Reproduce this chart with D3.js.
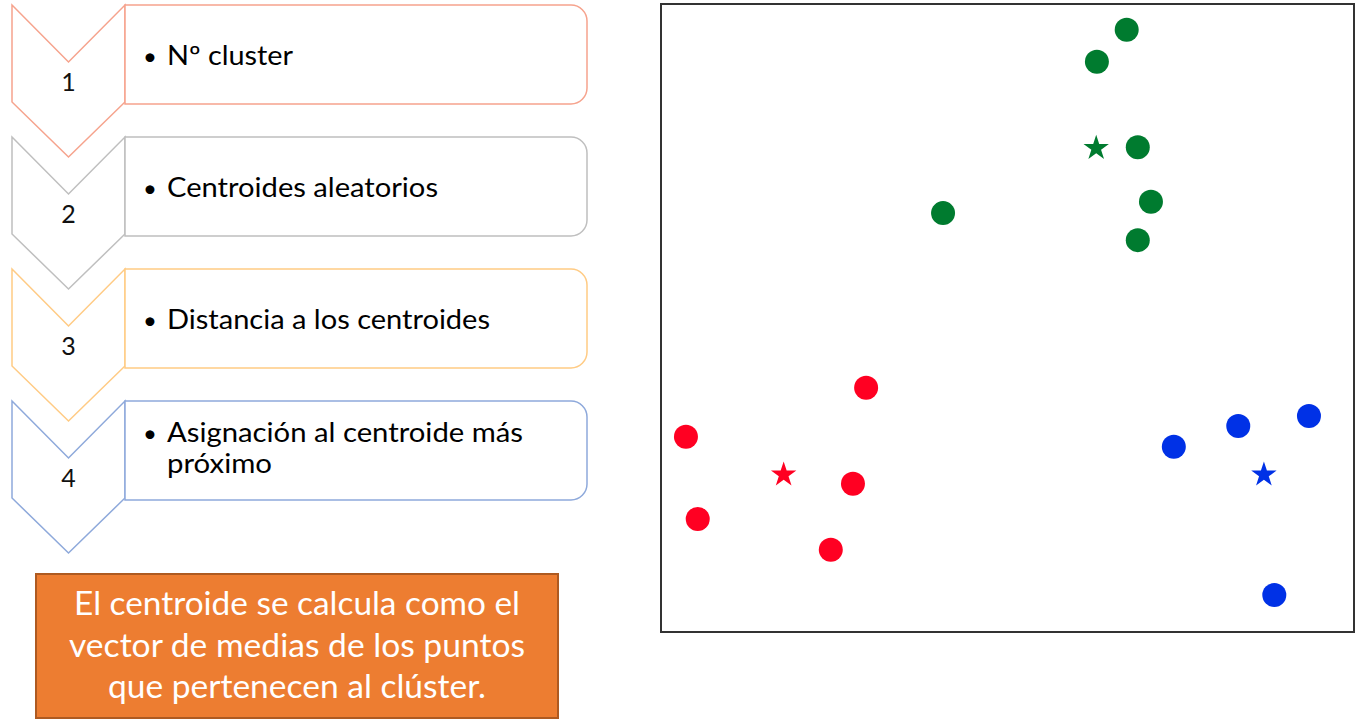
<!DOCTYPE html>
<html>
<head>
<meta charset="utf-8">
<script src="https://cdn.jsdelivr.net/npm/d3@7"></script>
<style>
  html, body { margin: 0; padding: 0; background: #fff; }
  svg { display: block; }
</style>
</head>
<body>
<svg id="chart" width="1359" height="722"></svg>
<script>
// ---------------- DATA ----------------
const stepNumbers = ["1", "2", "3", "4"];
const stepLines = [
  ["Nº cluster"],
  ["Centroides aleatorios"],
  ["Distancia a los centroides"],
  ["Asignación al centroide más", "próximo"]
];
const noteLines = [
  "El centroide se calcula como el",
  "vector de medias de los puntos",
  "que pertenecen al clúster."
];

// scatter points (arbitrary units 0..100)
const clusters = ["green", "red", "blue"];
const greenX = [67.2, 62.9, 68.8, 70.7, 40.7, 68.8];
const greenY = [95.9, 90.8, 77.2, 68.5, 66.7, 62.4];
const redX   = [29.6, 3.6, 27.7, 5.3, 24.5];
const redY   = [38.9, 31.1, 23.6, 18.0, 13.1];
const blueX  = [74.0, 83.3, 93.5, 88.5];
const blueY  = [29.5, 32.8, 34.4, 5.9];
const centroidX = [62.8, 17.7, 87.0];
const centroidY = [77.2, 25.2, 25.2];

// ---------------- STYLES ----------------
const stepColors = ["#F6A38D", "#BFBFBF", "#FFCB84", "#8EA9DB"];
const clusterColors = { green: "#007B2F", red: "#FF0022", blue: "#0031E6" };
const FONT = "Lato, 'Open Sans', sans-serif";

const svg = d3.select("#chart");

// ---------------- LEFT: PROCESS STEPS ----------------
const stepY = d3.scaleLinear().domain([0, 1]).range([5, 137]);
const chevL = 12, chevR = 125, chevMid = (chevL + chevR) / 2, notch = 57, bodyH = 97, tip = 55;
const rectR = 587, rectH = 99, rad = 16, lineH = 31;
const textW = { "Nº cluster": 126, "Centroides aleatorios": 271, "Distancia a los centroides": 323,
                "Asignación al centroide más": 356, "próximo": 105 };

const steps = svg.append("g").selectAll("g.step")
  .data(stepNumbers.map((n, i) => ({ n, i, lines: stepLines[i], color: stepColors[i] })))
  .join("g").attr("class", "step");

steps.append("path")
  .attr("fill", "#fff")
  .attr("stroke", d => d.color)
  .attr("stroke-width", 1.5)
  .attr("d", d => {
    const t = stepY(d.i);
    return `M${chevL},${t} L${chevMid},${t + notch} L${chevR},${t} L${chevR},${t + bodyH}` +
           ` L${chevMid},${t + bodyH + tip} L${chevL},${t + bodyH} Z`;
  });

steps.append("path")
  .attr("fill", "#fff")
  .attr("stroke", d => d.color)
  .attr("stroke-width", 1.5)
  .attr("d", d => {
    const t = stepY(d.i), b = t + rectH;
    return `M${chevR},${t} H${rectR - rad} A${rad},${rad} 0 0 1 ${rectR},${t + rad}` +
           ` V${b - rad} A${rad},${rad} 0 0 1 ${rectR - rad},${b} H${chevR} Z`;
  });

steps.append("text")
  .attr("x", chevMid)
  .attr("y", d => stepY(d.i) + 86)
  .attr("text-anchor", "middle")
  .attr("font-family", FONT)
  .attr("font-size", 25)
  .attr("fill", "#111")
  .text(d => d.n);

const firstBase = d => stepY(d.i) + 60 - (d.lines.length - 1) * 19;

steps.append("text")
  .attr("x", 143)
  .attr("y", d => firstBase(d))
  .attr("font-family", FONT)
  .attr("font-size", 24)
  .attr("fill", "#000")
  .text("•");

steps.each(function (d) {
  const g = d3.select(this);
  d.lines.forEach((line, k) => {
    g.append("text")
      .attr("x", 167)
      .attr("y", firstBase(d) + k * lineH)
      .attr("font-family", FONT)
      .attr("font-size", 26)
      .attr("fill", "#000")
      .attr("textLength", textW[line])
      .attr("lengthAdjust", "spacingAndGlyphs")
      .text(line);
  });
});

// ---------------- NOTE BOX ----------------
const note = svg.append("g");
note.append("rect")
  .attr("x", 36).attr("y", 574).attr("width", 522).attr("height", 144)
  .attr("fill", "#ED7D31").attr("stroke", "#AE5A21").attr("stroke-width", 2);
const noteW = [446, 456, 378];
note.selectAll("text").data(noteLines).join("text")
  .attr("x", 297)
  .attr("y", (d, i) => 615 + i * 41.5)
  .attr("text-anchor", "middle")
  .attr("font-family", FONT)
  .attr("font-size", 32)
  .attr("fill", "#fff")
  .attr("textLength", (d, i) => noteW[i])
  .attr("lengthAdjust", "spacingAndGlyphs")
  .text(d => d);

// ---------------- RIGHT: SCATTER ----------------
const box = { x0: 661, x1: 1354, y0: 4, y1: 632 };
const x = d3.scaleLinear().domain([0, 100]).range([box.x0, box.x1]);
const y = d3.scaleLinear().domain([0, 100]).range([box.y1, box.y0]);

svg.append("rect")
  .attr("x", box.x0).attr("y", box.y0)
  .attr("width", box.x1 - box.x0).attr("height", box.y1 - box.y0)
  .attr("fill", "#fff").attr("stroke", "#333").attr("stroke-width", 2);

const pts = [];
greenX.forEach((v, i) => pts.push({ c: "green", x: v, y: greenY[i] }));
redX.forEach((v, i) => pts.push({ c: "red", x: v, y: redY[i] }));
blueX.forEach((v, i) => pts.push({ c: "blue", x: v, y: blueY[i] }));

svg.append("g").selectAll("circle").data(pts).join("circle")
  .attr("cx", d => x(d.x))
  .attr("cy", d => y(d.y))
  .attr("r", 12)
  .attr("fill", d => clusterColors[d.c]);

const star = d3.symbol().type(d3.symbolStar).size(200);
svg.append("g").selectAll("path").data(clusters.map((c, i) => ({ c, x: centroidX[i], y: centroidY[i] })))
  .join("path")
  .attr("transform", d => `translate(${x(d.x)},${y(d.y) + 1})`)
  .attr("d", star)
  .attr("fill", d => clusterColors[d.c]);
</script>
</body>
</html>
